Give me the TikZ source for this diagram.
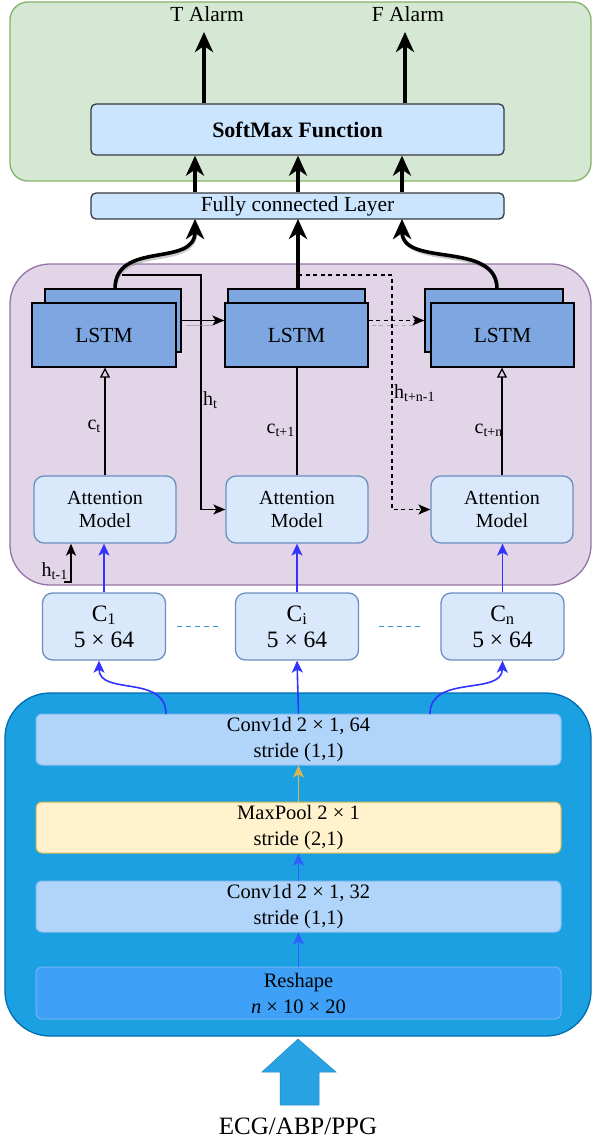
\documentclass[tikz,border=0pt]{standalone}
\usepackage{fontspec}
\setmainfont{Liberation Serif}
\usetikzlibrary{arrows.meta}
\definecolor{grnF}{HTML}{D5E8D4}
\definecolor{grnS}{HTML}{82B366}
\definecolor{purF}{HTML}{E1D5E7}
\definecolor{purS}{HTML}{9673A6}
\definecolor{smF}{HTML}{CCE5FF}
\definecolor{smS}{HTML}{36393D}
\definecolor{lstmF}{HTML}{7EA6E0}
\definecolor{attF}{HTML}{DAE8FC}
\definecolor{attS}{HTML}{6C8EBF}
\definecolor{bigF}{HTML}{1BA1E2}
\definecolor{bigS}{HTML}{006EAF}
\definecolor{convF}{RGB}{176,212,250}
\definecolor{convS}{RGB}{140,188,238}
\definecolor{poolF}{HTML}{FFF2CC}
\definecolor{poolS}{HTML}{D6B656}
\definecolor{reshF}{RGB}{62,160,246}
\definecolor{reshS}{RGB}{110,182,245}
\definecolor{cdash}{RGB}{51,150,210}
\definecolor{bluA}{RGB}{51,51,255}
\definecolor{bluB}{RGB}{51,92,255}
\definecolor{arrF}{RGB}{40,162,226}
\tikzset{
  cont/.style={line width=1.3pt, inner sep=0pt},
  smbox/.style={draw=smS, fill=smF, rounded corners=5pt, line width=1.3pt, inner sep=0pt,
     minimum width=413pt, align=center},
  lstm/.style={draw=black, fill=lstmF, line width=1.3pt, inner sep=0pt,
     font=\fontsize{21.5}{24}\selectfont},
  att/.style={draw=attS, fill=attF, rounded corners=10pt, line width=1.3pt, inner sep=0pt,
     minimum width=142pt, minimum height=67pt, align=center, font=\fontsize{20}{23}\selectfont},
  cbox/.style={draw=attS, fill=attF, rounded corners=10pt, line width=1.3pt, inner sep=0pt,
     minimum width=123pt, minimum height=67pt, align=center, font=\fontsize{23.5}{26}\selectfont},
  conv/.style={rounded corners=6pt, line width=1pt, inner sep=0pt,
     minimum width=525pt, minimum height=51pt, align=center, font=\fontsize{20.5}{26}\selectfont},
  lbl/.style={inner sep=0pt, font=\fontsize{20}{22}\selectfont},
  thickarr/.style={line width=3.6pt, -{Stealth[length=20pt,width=18pt,inset=6pt]}},
  shadowarr/.style={thickarr, draw=black!45, opacity=0.45, xshift=2pt, yshift=-3pt},
  blackarr/.style={line width=1.3pt, -{Stealth[length=12pt,width=10pt,inset=3pt]}},
  openarr/.style={line width=1.3pt, -{Triangle[open,length=10pt,width=10pt]}},
  bluearr/.style={draw=bluA, line width=1.6pt, -{Stealth[length=12pt,width=11pt,inset=3pt]}},
  innerarr/.style={line width=1.6pt, -{Stealth[length=12pt,width=11pt,inset=3pt]}},
}
\begin{document}
\begin{tikzpicture}[x=1pt,y=-1pt]
\useasboundingbox (0,0) rectangle (592,1142);

% ---------- containers
\node[cont, draw=grnS, fill=grnF, rounded corners=18pt, minimum width=581pt, minimum height=179pt] (green) at (300.5,91.5) {};
\node[cont, draw=purS, fill=purF, rounded corners=40pt, minimum width=581pt, minimum height=321pt] (purple) at (300.5,424.5) {};
\node[cont, draw=bigS, fill=bigF, rounded corners=45pt, minimum width=586pt, minimum height=343pt] (blue) at (298,864.5) {};

% ---------- top
\node[inner sep=0pt, font=\fontsize{21.5}{24}\selectfont] (TA) at (207,14) {T Alarm};
\node[inner sep=0pt, font=\fontsize{21.5}{24}\selectfont] (FA) at (408,14) {F Alarm};
\node[smbox, minimum height=51pt, font=\fontsize{22}{24}\selectfont\bfseries] (soft) at (297.5,129.5) {SoftMax Function};
\node[smbox, minimum height=26pt, font=\fontsize{21.5}{24}\selectfont] (fc) at (297.5,206) {Fully connected Layer};

\coordinate (tT) at (204,32);
\coordinate (tF) at (405,32);
\draw[thickarr] (soft.north -| tT) -- (tT);
\draw[thickarr] (soft.north -| tF) -- (tF);
\foreach \x in {195,298,402}{
  \draw[thickarr] (fc.north -| \x,0) -- (soft.south -| \x,0);
}

% ---------- LSTMs
\node[lstm, minimum width=136pt, minimum height=63pt] (L1b) at (113,320.5) {};
\node[lstm, minimum width=144pt, minimum height=64pt] (L1) at (104,335) {LSTM};
\node[lstm, minimum width=137pt, minimum height=63pt] (L2b) at (296.5,320.5) {};
\node[lstm, minimum width=143pt, minimum height=64pt] (L2) at (296.5,335) {LSTM};
\node[lstm, minimum width=138pt, minimum height=63pt] (L3b) at (494,320.5) {};
\node[lstm, minimum width=143pt, minimum height=64pt] (L3) at (502.5,335) {LSTM};

% feedback h lines
\coordinate (hA) at (122,275);
\coordinate (hB) at (201,275);
\coordinate (dA) at (298,275);
\coordinate (dB) at (392,275);

% attention
\node[att] (A1) at (105,509.5) {Attention\\Model};
\node[att] (A2) at (297,509.5) {Attention\\Model};
\node[att] (A3) at (502,509.5) {Attention\\Model};

\draw[line width=1.3pt, -{Stealth[length=12pt,width=10pt,inset=3pt]}] (hA) -- (hB) -- (hB |- A2.west) -- (A2.west);
\draw[line width=1.3pt, dash pattern=on 4pt off 3.5pt, -{Stealth[length=12pt,width=10pt,inset=3pt]}] (dA) -- (dB) -- (dB |- A3.west) -- (A3.west);

% LSTM -> LSTM
\draw[draw=black!45, opacity=0.6, line width=1.2pt] ([shift={(4,5)}]L1b.east) -- ([shift={(-12,5)}]L1b.east -| L2.west);
\draw[blackarr] (L1b.east) -- (L1b.east -| L2.west);
\draw[draw=black!45, opacity=0.6, line width=1.2pt, dash pattern=on 4pt off 3.5pt] ([shift={(3,5)}]L2b.east -| L2.east) -- ([shift={(-12,5)}]L2b.east -| L3b.west);
\draw[blackarr, dash pattern=on 4pt off 3.5pt] (L2b.east -| L2.east) -- (L2b.east -| L3b.west);

% LSTM -> FC (thick, with shadow)
\coordinate (s1) at (115,289);
\coordinate (s2) at (298,289);
\coordinate (s3) at (497,289);
\coordinate (e1) at (195,219);
\coordinate (e2) at (298,219);
\coordinate (e3) at (402,219);
\draw[shadowarr] (s1) .. controls (115,240) and (195,268) .. (e1);
\draw[shadowarr] (s3) .. controls (497,240) and (402,268) .. (e3);
\draw[thickarr] (s1) .. controls (115,240) and (195,268) .. (e1);
\draw[thickarr] (s2) -- (e2);
\draw[thickarr] (s3) .. controls (497,240) and (402,268) .. (e3);

% c lines
\draw[openarr] (A1.north) -- (A1.north |- L1.south);
\draw[line width=1.3pt] (A2.north) -- (A2.north |- L2.south);
\draw[openarr] (A3.north) -- (A3.north |- L3.south);

\node[lbl, anchor=east] (ct) at (101,426) {c\textsubscript{t}};
\node[lbl, anchor=east] (ct1) at (295,430) {c\textsubscript{t+1}};
\node[lbl, anchor=east] (ctn) at (503,430) {c\textsubscript{t+n}};
\node[lbl, anchor=west] (ht) at (203,400) {h\textsubscript{t}};
\node[lbl, anchor=west] (htn) at (394,393) {h\textsubscript{t+n-1}};
\node[lbl, anchor=east] (htm) at (68,571) {h\textsubscript{t-1}};

\coordinate (hm0) at (64,582);
\coordinate (hm1) at (71,582);
\draw[blackarr] (hm0) -- (hm1) -- (hm1 |- A1.south);

% C boxes
\node[cbox] (C1) at (104,626.5) {C\textsubscript{1}\\5 × 64};
\node[cbox] (Ci) at (297,626.5) {C\textsubscript{i}\\5 × 64};
\node[cbox] (Cn) at (502.5,626.5) {C\textsubscript{n}\\5 × 64};
\draw[draw=cdash, line width=1.5pt, dash pattern=on 5pt off 4pt] ([xshift=11pt]C1.east) -- ([xshift=-14pt]Ci.west);
\draw[draw=cdash, line width=1.5pt, dash pattern=on 5pt off 4pt] ([xshift=20pt]Ci.east) -- ([xshift=-20pt]Cn.west);

\draw[bluearr] (C1.north) -- (C1.north |- A1.south);
\draw[bluearr] (Ci.north) -- (Ci.north |- A2.south);
\draw[bluearr] (Cn.north) -- (Cn.north |- A3.south);

% bottom block
\node[conv, draw=convS, fill=convF] (conv64) at (298.5,739.5) {Conv1d 2 × 1, 64\\stride (1,1)};
\node[conv, draw=poolS, fill=poolF] (pool) at (298.5,827.5) {MaxPool 2 × 1\\stride (2,1)};
\node[conv, draw=convS, fill=convF] (conv32) at (298.5,906.5) {Conv1d 2 × 1, 32\\stride (1,1)};
\node[conv, draw=reshS, fill=reshF, minimum height=52pt] (resh) at (298.5,993) {Reshape\\\textit{n} × 10 × 20};

\draw[innerarr, draw=bluB] (resh.north) -- (conv32.south);
\draw[innerarr, draw=bluB] (conv32.north) -- (pool.south);
\draw[innerarr, draw=poolS] (pool.north) -- (conv64.south);

\coordinate (b1) at (166,714);
\coordinate (b3) at (430,714);
\draw[bluearr] (conv64.north) -- (Ci.south);
\draw[bluearr] (b1) .. controls (166,674) and (99,696) .. ([xshift=-5pt]C1.south);
\draw[bluearr] (b3) .. controls (430,674) and (502,696) .. (Cn.south);

% input arrow
\draw[draw=arrF!85!black, line width=0.5pt, fill=arrF] (280,1105) -- (280,1072) -- (262,1072) -- (298,1039) -- (336,1072) -- (319,1072) -- (319,1105) -- cycle;
\node[inner sep=0pt, font=\fontsize{25}{28}\selectfont] (ecg) at (298,1126) {ECG/ABP/PPG};
\end{tikzpicture}
\end{document}
